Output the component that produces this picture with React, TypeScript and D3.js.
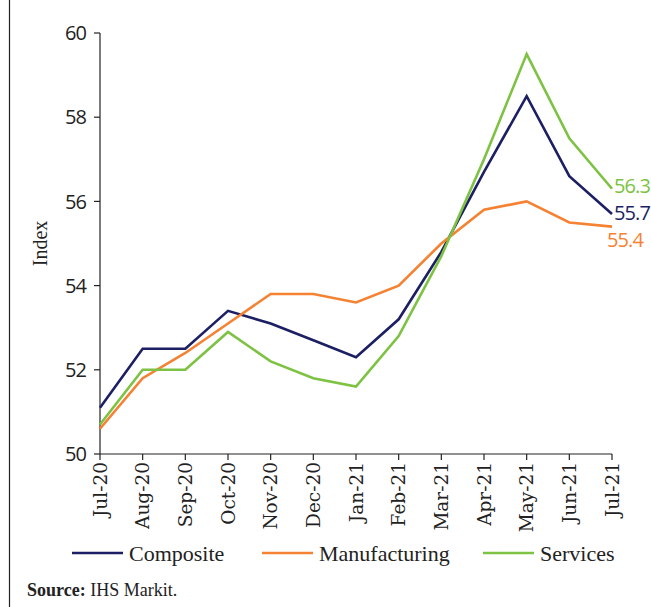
import React from "react";
import * as d3 from "d3";

const months = ["Jul-20","Aug-20","Sep-20","Oct-20","Nov-20","Dec-20","Jan-21","Feb-21","Mar-21","Apr-21","May-21","Jun-21","Jul-21"];
const composite = [51.1, 52.5, 52.5, 53.4, 53.1, 52.7, 52.3, 53.2, 54.8, 56.7, 58.5, 56.6, 55.7];
const manufacturing = [50.6, 51.8, 52.4, 53.1, 53.8, 53.8, 53.6, 54.0, 55.0, 55.8, 56.0, 55.5, 55.4];
const services = [50.7, 52.0, 52.0, 52.9, 52.2, 51.8, 51.6, 52.8, 54.7, 57.0, 59.5, 57.5, 56.3];
const yTicks = [50, 52, 54, 56, 58, 60];

const seriesNames = ["Composite", "Manufacturing", "Services"];
const seriesColors = ["#1c1f63", "#f58232", "#7dc242"];
const seriesData = [composite, manufacturing, services];

export default function App() {
  const W = 651, H = 607;
  const x = d3.scalePoint<string>().domain(months).range([100, 612]);
  const y = d3.scaleLinear().domain([50, 60]).range([454, 33]);
  const line = d3.line<number>().x((_, i) => x(months[i]) as number).y((d) => y(d));
  const serif = "'Liberation Serif', 'DejaVu Serif', serif";
  const slab = "'DejaVu Serif', 'Liberation Serif', serif";
  const sans = "'Open Sans', 'Noto Sans', sans-serif";

  const endLabels = [
    { v: services[12], color: seriesColors[2], dx: 2, dy: -3 },
    { v: composite[12], color: seriesColors[0], dx: 2, dy: -1 },
    { v: manufacturing[12], color: seriesColors[1], dx: -5, dy: 13 },
  ];

  const legendX = [72, 262, 483];

  return (
    <svg width={W} height={H} style={{ position: "absolute", left: 0, top: 0, background: "#fff" }}>
      <rect x={0} y={0} width={W} height={H} fill="#fff" />
      <line x1={9.5} x2={9.5} y1={0} y2={H} stroke="#222" strokeWidth={1.2} />
      {/* y axis */}
      <line x1={100} x2={100} y1={y(60)} y2={y(50)} stroke="#222" strokeWidth={1.2} />
      {yTicks.map((t) => (
        <g key={t}>
          <line x1={94} x2={100} y1={y(t)} y2={y(t)} stroke="#222" strokeWidth={1.2} />
          <text x={86} y={y(t)} dy="0.36em" textAnchor="end" fontFamily={sans} fontSize={20} letterSpacing={-0.9} fill="#222">{t}</text>
        </g>
      ))}
      <text transform={`translate(40,${(y(50) + y(60)) / 2}) rotate(-90)`} textAnchor="middle" dy="0.35em" fontFamily={serif} fontSize={20} fill="#222">Index</text>
      {/* x axis */}
      <line x1={100} x2={612} y1={y(50)} y2={y(50)} stroke="#222" strokeWidth={1.2} />
      {months.map((m) => (
        <g key={m}>
          <line x1={x(m)} x2={x(m)} y1={y(50)} y2={y(50) + 6} stroke="#222" strokeWidth={1.2} />
          <text transform={`translate(${x(m)},${y(50) + 8}) rotate(-90)`} textAnchor="end" dy="0.36em" fontFamily={slab} fontSize={18.5} fill="#222">{m}</text>
        </g>
      ))}
      {/* lines */}
      {seriesData.map((s, i) => (
        <path key={seriesNames[i]} d={line(s) || ""} fill="none" stroke={seriesColors[i]} strokeWidth={2.6} strokeLinejoin="miter" />
      ))}
      {endLabels.map((l, i) => (
        <text key={i} x={612 + l.dx} y={y(l.v) + l.dy} dy="0.36em" fontFamily={sans} fontSize={20} letterSpacing={-0.9} fill={l.color}>{l.v.toFixed(1)}</text>
      ))}
      {/* legend */}
      {seriesNames.map((n, i) => (
        <g key={n}>
          <line x1={legendX[i]} x2={legendX[i] + 51} y1={553} y2={553} stroke={seriesColors[i]} strokeWidth={2.6} />
          <text x={legendX[i] + 57} y={553} dy="0.35em" fontFamily={serif} fontSize={22} fill="#222">{n}</text>
        </g>
      ))}
      <text x={27} y={590} dy="0.35em" fontFamily={serif} fontSize={18} fill="#222">
        <tspan fontWeight="bold">Source:</tspan> IHS Markit.
      </text>
    </svg>
  );
}
